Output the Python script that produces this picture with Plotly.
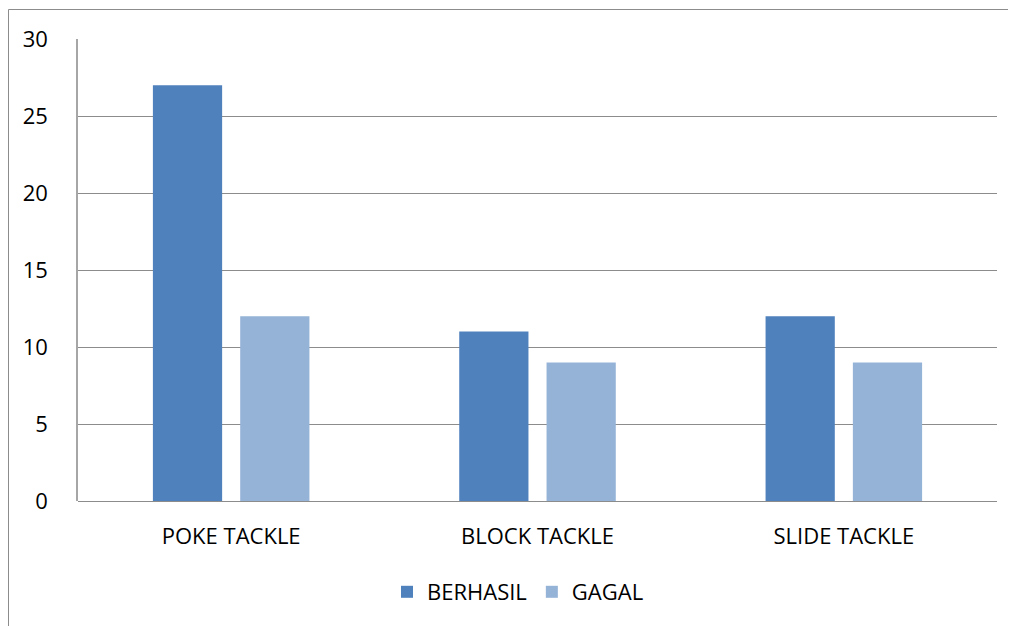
import plotly.graph_objects as go

categories = ["POKE TACKLE", "BLOCK TACKLE", "SLIDE TACKLE"]
berhasil = [27, 11, 12]
gagal = [12, 9, 9]
y_ticks = [0, 5, 10, 15, 20, 25, 30]

FONT = "Open Sans"
fig = go.Figure()
fig.add_trace(go.Bar(name="BERHASIL", x=categories, y=berhasil, marker=dict(color="#4F81BD", line=dict(width=0))))
fig.add_trace(go.Bar(name="GAGAL", x=categories, y=gagal, marker=dict(color="#95B3D7", line=dict(width=0))))

OFF = 8  # page body margin
W, H = 1016 - OFF, 626 - OFF
L, R, T, B = 78 - OFF, 19, 39 - OFF, 125
pw, ph = W - L - R, H - T - B
# plot area in page coords: x 78..997, y 39..501

fig.update_layout(
    width=W, height=H,
    margin=dict(l=L, r=R, t=T, b=B),
    paper_bgcolor="white", plot_bgcolor="white",
    barmode="group", bargap=0.43, bargroupgap=0.207,
    font=dict(family=FONT, size=22, color="#000000"),
    showlegend=True,
    legend=dict(orientation="h", x=(518 - 78) / pw, xanchor="center", y=-(592 - 501) / ph, yanchor="middle",
                font=dict(family=FONT, size=22), itemwidth=30, itemsizing="constant"),
    xaxis=dict(showgrid=False, showline=False, ticks="", ticklabelstandoff=20),
    yaxis=dict(range=[0, 30], tickvals=y_ticks, showgrid=True, gridcolor="#8C8C8C", gridwidth=1,
               showline=True, linecolor="#A6A6A6", linewidth=1.5, ticks="", ticklabelstandoff=24,
               zeroline=True, zerolinecolor="#8C8C8C", zerolinewidth=1),
)

# outer chart frame (page coords x=8.5, y=9)
fig.add_shape(type="rect", xref="paper", yref="paper",
              x0=(8.5 - 78) / pw, x1=(1030 - 78) / pw,
              y0=-(640 - 501) / ph, y1=1 + (39 - 9.5) / ph,
              line=dict(color="#8C8C8C", width=1), fillcolor="rgba(0,0,0,0)", layer="below")

fig.write_html("out.html")
